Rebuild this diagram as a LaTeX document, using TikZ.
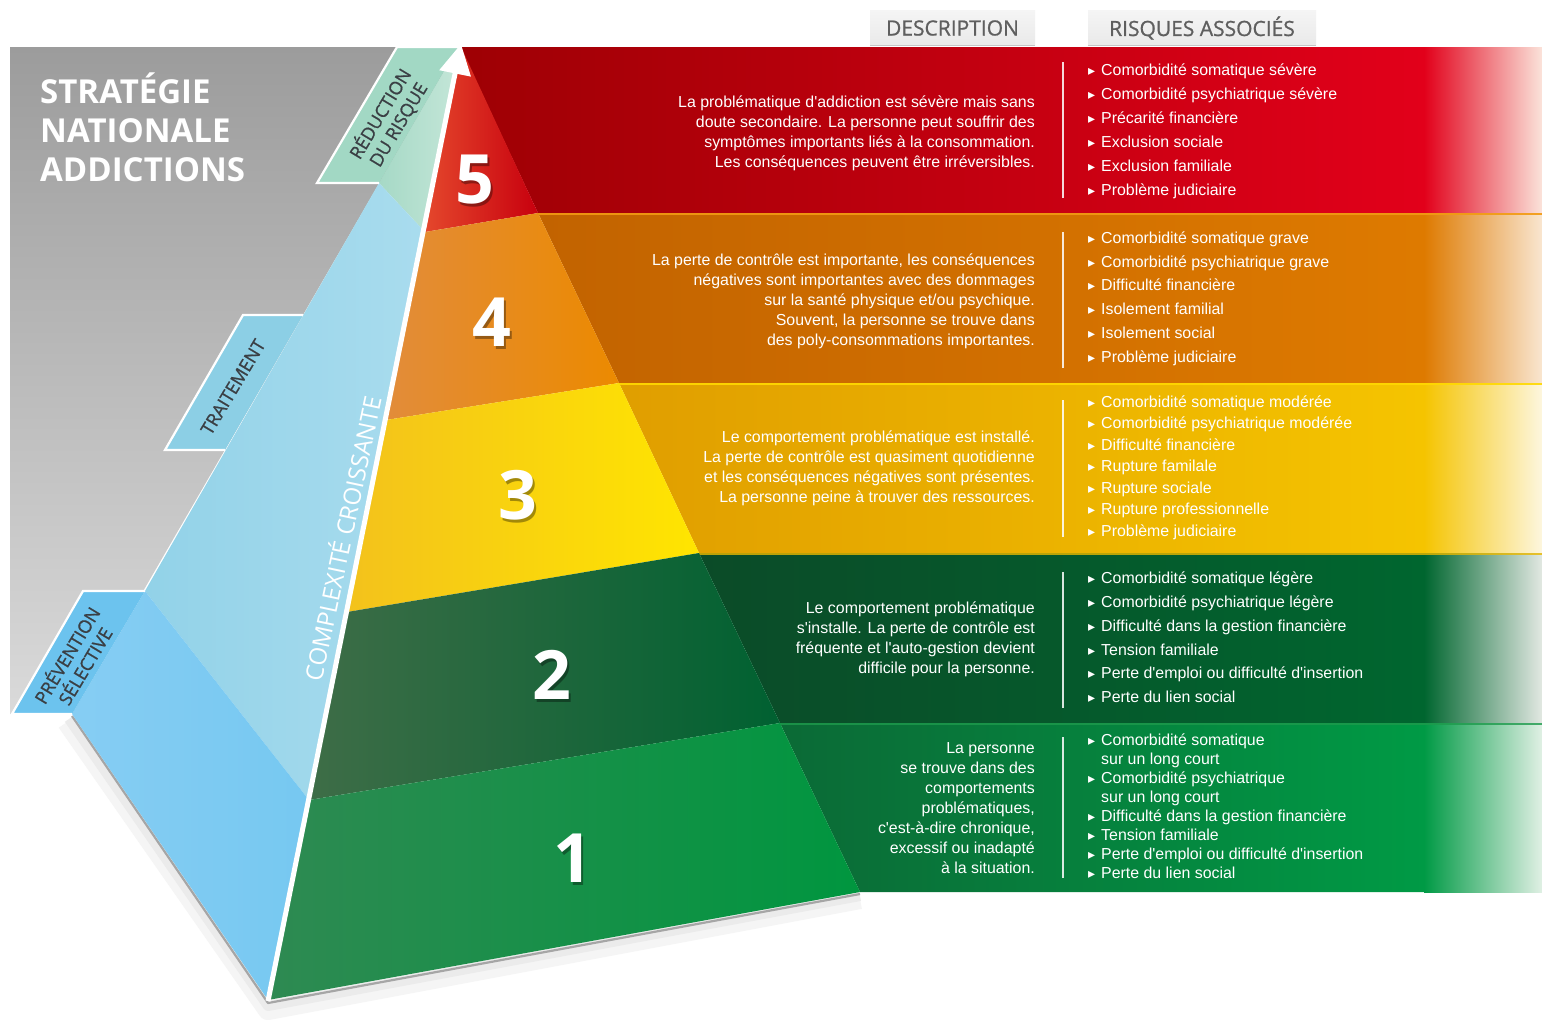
\documentclass[tikz,border=0pt]{standalone}
\usepackage{fontspec}
\setmainfont{Liberation Sans}
\newfontfamily\bodyfont{Liberation Sans}
\newfontfamily\headfont{Open Sans}
\newfontfamily\semifont{Open Sans}[FakeBold=0.9]
\newfontfamily\symfont{DejaVu Sans}
\usetikzlibrary{arrows.meta}

% panel and side face
\definecolor{panelTop}{HTML}{9C9C9C}
\definecolor{panelBot}{HTML}{DADADA}
\definecolor{mintTab}{HTML}{A2D8C4}
\definecolor{mintL}{HTML}{A6D9C6}
\definecolor{mintR}{HTML}{C4E6D8}
\definecolor{ltTab}{HTML}{8CCFE5}
\definecolor{ltL}{HTML}{92D2E8}
\definecolor{ltR}{HTML}{A9DCEE}
\definecolor{blTab}{HTML}{6CC3EE}
\definecolor{blL}{HTML}{86CDF3}
\definecolor{blR}{HTML}{76C8F1}
\definecolor{tabInk}{HTML}{3A3F44}
% front face of the pyramid
\definecolor{f5L}{HTML}{E4472C}\definecolor{f5R}{HTML}{C8000E}
\definecolor{f4L}{HTML}{E28C3A}\definecolor{f4R}{HTML}{EC8A00}
\definecolor{f3L}{HTML}{F3C21C}\definecolor{f3R}{HTML}{FFE500}
\definecolor{f2L}{HTML}{3E6D47}\definecolor{f2R}{HTML}{006131}
\definecolor{f1L}{HTML}{2E8A52}\definecolor{f1R}{HTML}{00963F}
% bands on the right
\definecolor{b5L}{HTML}{9E0004}\definecolor{b5R}{HTML}{E2001A}\definecolor{b5F}{HTML}{FBE3DA}
\definecolor{b4L}{HTML}{C26300}\definecolor{b4R}{HTML}{DE7A00}\definecolor{b4F}{HTML}{F9E6D0}
\definecolor{b3L}{HTML}{E09E00}\definecolor{b3R}{HTML}{F5C400}\definecolor{b3F}{HTML}{FDF6DE}
\definecolor{b2L}{HTML}{0B4B28}\definecolor{b2R}{HTML}{00662F}\definecolor{b2F}{HTML}{E2E8E2}
\definecolor{b1L}{HTML}{0B6A36}\definecolor{b1R}{HTML}{009A45}\definecolor{b1F}{HTML}{E0F0E4}
\definecolor{l4}{HTML}{F29A12}
\definecolor{l3}{HTML}{FFD800}
\definecolor{l2}{HTML}{E9B800}
\definecolor{l1}{HTML}{1E9A4C}
\definecolor{hdrInk}{HTML}{5F5F5F}

\newcommand{\bul}{\makebox[13pt][l]{\symfont\fontsize{14}{14}\selectfont ▸}}
\newcommand{\bulgap}{\hspace*{13pt}}

\begin{document}
\begin{tikzpicture}[x=1pt,y=-1pt,
  title/.style={text=white,font=\headfont\bfseries\fontsize{33}{33}\selectfont,inner sep=0,anchor=base west},
  tabtxt/.style={text=tabInk,font=\semifont\fontsize{18}{21}\selectfont,align=center,inner sep=0,rotate=59},
  digit/.style={text=white,font=\headfont\bfseries\fontsize{68}{68}\selectfont,inner sep=0},
  digitshadow/.style={digit,text=black,opacity=0.35},
  desc/.style={text=white,align=right,inner sep=0,anchor=east,font=\bodyfont\fontsize{15.9}{20}\selectfont},
  risk/.style={text=white,align=left,inner sep=0,anchor=west,font=\bodyfont\fontsize{15.9}{#1}\selectfont},
  risk/.default=24,
  hdr/.style={top color=gray!8,bottom color=gray!17,text=hdrInk,inner sep=0,
    minimum height=35pt,font=\semifont\fontsize{21}{21}\selectfont},
  divider/.style={draw=white,line width=1.2pt,opacity=0.85},
  tabedge/.style={draw=white,line width=2.2pt,line join=miter}
]
\useasboundingbox (0,0) rectangle (1542,1021);
\fill[white] (0,0) rectangle (1542,1021);

% grey backdrop
\shade[top color=panelTop,bottom color=panelBot] (10,47) -- (458,47) -- (72,714) -- (10,714) -- cycle;

% soft shadow under the pyramid
\draw[black!4,line width=20pt,line join=round] (67,722) -- (268,1010) -- (860,899);
\draw[black!8,line width=10pt,line join=round] (69,719) -- (268,1006) -- (860,896);
\draw[black!35,line width=2.2pt,line join=round] (72,716) -- (268,1003) -- (860,894);

% side face: coloured zones
\shade[left color=mintL,right color=mintR] (458,47) -- (425,232) -- (379,183) -- cycle;
\shade[left color=ltL,right color=ltR] (379,183) -- (425,232) -- (309,800) -- (145,591) -- cycle;
\shade[left color=blL,right color=blR] (145,591) -- (309,800) -- (268,1000) -- (72,714) -- cycle;

% tabs
\fill[mintTab] (397,47) -- (458,47) -- (379,183) -- (317,183) -- cycle;
\draw[tabedge] (458,47) -- (397,47) -- (317,183) -- (379,183);
\fill[ltTab] (243,315) -- (303,315) -- (225,450) -- (165,450) -- cycle;
\draw[tabedge] (303,315) -- (243,315) -- (165,450) -- (225,450);
\fill[blTab] (83,591) -- (145,591) -- (72,714) -- (12,714) -- cycle;
\draw[tabedge] (145,591) -- (83,591) -- (12,714) -- (72,714);

\node[tabtxt] (lred) at (389,119) {RÉDUCTION\\DU RISQUE};
\node[tabtxt] (ltrt) at (233,387) {TRAITEMENT};
\node[tabtxt] (lprev) at (75,660) {PRÉVENTION\\SÉLECTIVE};

% bands on the right
\shade[left color=b5L,right color=b5R] (460,47) -- (1425,47) -- (1425,213) -- (538,213) -- cycle;
\shade[left color=b5R,right color=b5F] (1424,47) rectangle (1542,213);
\shade[left color=b4L,right color=b4R] (538,213) -- (1425,213) -- (1425,383) -- (619,383) -- cycle;
\shade[left color=b4R,right color=b4F] (1424,213) rectangle (1542,383);
\shade[left color=b3L,right color=b3R] (619,383) -- (1425,383) -- (1425,553) -- (699,553) -- cycle;
\shade[left color=b3R,right color=b3F] (1424,383) rectangle (1542,553);
\shade[left color=b2L,right color=b2R] (699,553) -- (1425,553) -- (1425,723) -- (780,723) -- cycle;
\shade[left color=b2R,right color=b2F] (1424,553) rectangle (1542,723);
\shade[left color=b1L,right color=b1R] (780,723) -- (1425,723) -- (1425,892) -- (860,892) -- cycle;
\shade[left color=b1R,right color=b1F] (1424,723) rectangle (1542,892);

% thin rims between the bands
\draw[l4,line width=2.5pt,opacity=0.9] (538,214) -- (1542,214);
\draw[l3,line width=2.5pt,opacity=0.9] (619,384) -- (1542,384);
\draw[l2,line width=2pt,opacity=0.8] (699,554) -- (1542,554);
\draw[l1,line width=2pt,opacity=0.8] (780,724) -- (1542,724);

% front face of the pyramid
\shade[left color=f5L,right color=f5R] (461,47) -- (538,213) -- (425,232) -- cycle;
\shade[left color=f4L,right color=f4R] (425,232) -- (538,213) -- (619,383) -- (386,420) -- cycle;
\shade[left color=f3L,right color=f3R] (386,420) -- (619,383) -- (699,553) -- (347,612) -- cycle;
\shade[left color=f2L,right color=f2R] (347,612) -- (699,553) -- (780,723) -- (309,800) -- cycle;
\shade[left color=f1L,right color=f1R] (309,800) -- (780,723) -- (860,892) -- (268,1000) -- cycle;

% rising arrow along the edge
\coordinate (base) at (268,1001);
\coordinate (tip) at (461,44);
\draw[white,line width=5pt,-{Triangle[length=30pt,width=31pt]}] (base) -- (tip);

\node[text=white,font=\headfont\fontsize{24}{24}\selectfont,rotate=78,inner sep=0] (cc) at (341,538) {COMPLEXITÉ CROISSANTE};

% level numbers
\node[digitshadow] (n5s) at (477,183) {5};
\node[digit] (n5) at (475,180) {5};
\node[digitshadow] (n4s) at (494,325) {4};
\node[digit] (n4) at (492,322) {4};
\node[digitshadow] (n3s) at (520,498) {3};
\node[digit] (n3) at (518,495) {3};
\node[digitshadow] (n2s) at (554,678) {2};
\node[digit] (n2) at (552,675) {2};
\node[digitshadow] (n1s) at (575,861) {1};
\node[digit] (n1) at (573,858) {1};

% title
\node[title] (t1) at (40,103) {STRATÉGIE};
\node[title] (t2) at (40,142) {NATIONALE};
\node[title] (t3) at (40,181) {ADDICTIONS};

% column headers
\node[hdr,minimum width=165pt] (hd) at (952.5,28) {DESCRIPTION};
\node[hdr,minimum width=228pt] (hr) at (1202,28) {RISQUES ASSOCIÉS};
\draw[gray!45,line width=1.5pt] (hd.south west) -- (hd.south east);
\draw[gray!45,line width=1.5pt] (hr.south west) -- (hr.south east);

% column dividers
\draw[divider] (1063,62) -- (1063,198);
\draw[divider] (1063,232) -- (1063,368);
\draw[divider] (1063,400) -- (1063,537);
\draw[divider] (1063,572) -- (1063,708);
\draw[divider] (1063,737) -- (1063,878);

% descriptions
\node[desc] (d5) at (1035,133) {La problématique d'addiction est sévère mais sans\\doute secondaire. La personne peut souffrir des\\symptômes importants liés à la consommation.\\Les conséquences peuvent être irréversibles.};
\node[desc] (d4) at (1035,301) {La perte de contrôle est importante, les conséquences\\négatives sont importantes avec des dommages\\sur la santé physique et/ou psychique.\\Souvent, la personne se trouve dans\\des poly-consommations importantes.};
\node[desc] (d3) at (1035,468) {Le comportement problématique est installé.\\La perte de contrôle est quasiment quotidienne\\et les conséquences négatives sont présentes.\\La personne peine à trouver des ressources.};
\node[desc] (d2) at (1035,639) {Le comportement problématique\\s'installe. La perte de contrôle est\\fréquente et l'auto-gestion devient\\difficile pour la personne.};
\node[desc] (d1) at (1035,808) {La personne\\se trouve dans des\\comportements\\problématiques,\\c'est-à-dire chronique,\\excessif ou inadapté\\à la situation.};

% associated risks
\node[risk] (r5) at (1088,131) {\bul Comorbidité somatique sévère\\\bul Comorbidité psychiatrique sévère\\\bul Précarité financière\\\bul Exclusion sociale\\\bul Exclusion familiale\\\bul Problème judiciaire};
\node[risk=23.8] (r4) at (1088,298.5) {\bul Comorbidité somatique grave\\\bul Comorbidité psychiatrique grave\\\bul Difficulté financière\\\bul Isolement familial\\\bul Isolement social\\\bul Problème judiciaire};
\node[risk=21.5] (r3) at (1088,467.5) {\bul Comorbidité somatique modérée\\\bul Comorbidité psychiatrique modérée\\\bul Difficulté financière\\\bul Rupture familale\\\bul Rupture sociale\\\bul Rupture professionnelle\\\bul Problème judiciaire};
\node[risk=23.8] (r2) at (1088,637.5) {\bul Comorbidité somatique légère\\\bul Comorbidité psychiatrique légère\\\bul Difficulté dans la gestion financière\\\bul Tension familiale\\\bul Perte d'emploi ou difficulté d'insertion\\\bul Perte du lien social};
\node[risk=19] (r1) at (1088,806.5) {\bul Comorbidité somatique\\\bulgap sur un long court\\\bul Comorbidité psychiatrique\\\bulgap sur un long court\\\bul Difficulté dans la gestion financière\\\bul Tension familiale\\\bul Perte d'emploi ou difficulté d'insertion\\\bul Perte du lien social};
\end{tikzpicture}
\end{document}
